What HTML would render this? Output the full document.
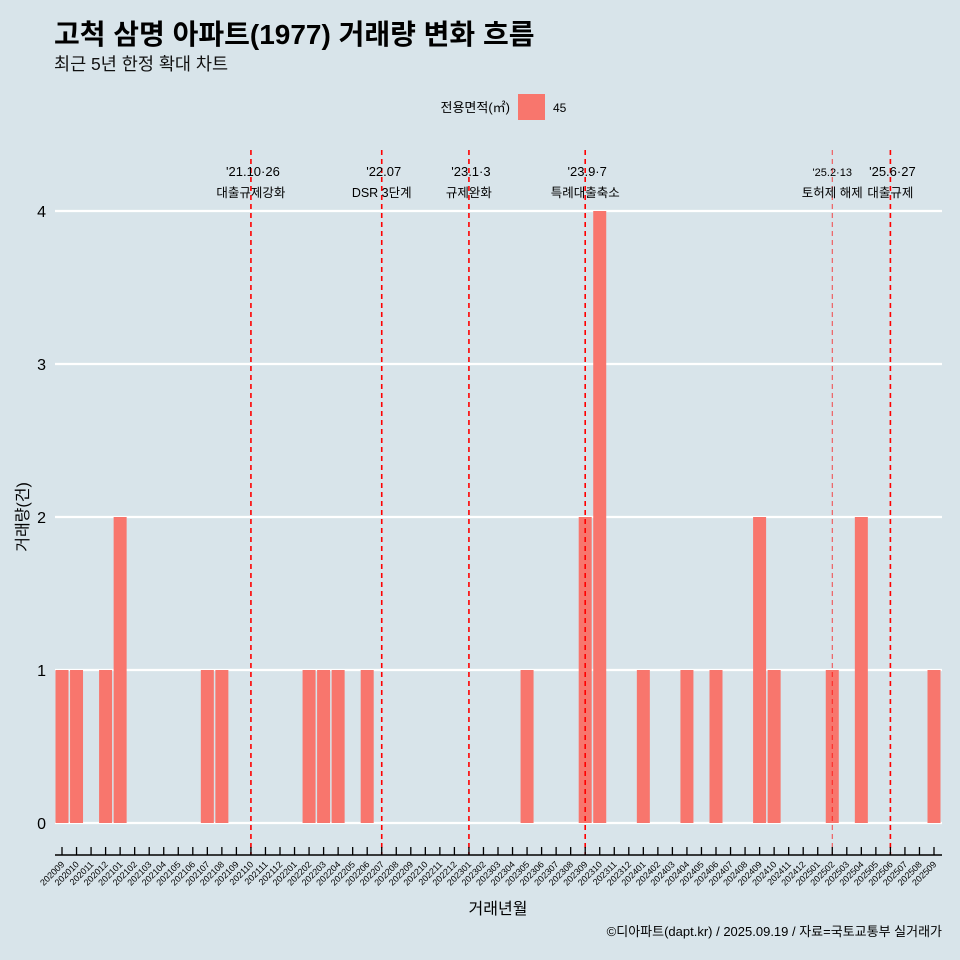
<!DOCTYPE html>
<html><head><meta charset="utf-8">
<style>
body{margin:0;background:#d8e4ea;}
svg{display:block;font-family:"Liberation Sans","Noto Sans CJK KR",sans-serif;}
</style></head>
<body>
<svg id="c" width="960" height="960" viewBox="0 0 960 960">
<rect width="960" height="960" fill="#d8e4ea"/>
<text x="54" y="44" font-size="28" font-weight="bold" fill="#000">고척 삼명 아파트(1977) 거래량 변화 흐름</text>
<text x="54" y="70" font-size="17.5" fill="#111">최근 5년 한정 확대 차트</text>
<g>
<text x="510" y="112" font-size="13" text-anchor="end">전용면적(㎡)</text>
<rect x="518" y="94" width="27" height="26" fill="#f8766d"/>
<text x="553" y="112" font-size="12">45</text>
</g>
<g id="grid"></g><g id="bars"></g><g id="events"></g><g id="axes"></g>
<text x="28" y="517" font-size="16" text-anchor="middle" transform="rotate(-90 28 517)">거래량(건)</text>
<text x="498" y="914" font-size="16" text-anchor="middle">거래년월</text>
<text x="942" y="936" font-size="13" text-anchor="end">©디아파트(dapt.kr) / 2025.09.19 / 자료=국토교통부 실거래가</text>
</svg>
<script>
const categories=[];
for(let y=2020,m=9;y<2025||(y===2025&&m<=9);){categories.push(''+y+(m<10?'0':'')+m);m++;if(m>12){m=1;y++;}}
const nonZeroMonths=['202009','202010','202012','202101','202107','202108','202202','202203','202204','202206','202305','202309','202310','202401','202404','202406','202409','202410','202502','202504','202509'];
const nonZeroValues=[1,1,1,2,1,1,1,1,1,1,1,2,4,1,1,1,2,1,1,2,1];
const yTicks=[0,1,2,3,4];
const eventMonths=['202110','202207','202301','202309','202502','202506'];
const eventLine1=["'21.10·26","'22.07","'23.1·3","'23.9·7","'25.2·13","'25.6·27"];
const eventLine2=['대출규제강화','DSR 3단계','규제완화','특례대출축소','토허제 해제','대출규제'];
const NS='http://www.w3.org/2000/svg';
const x0=62,step=(934-62)/60;
const xs=i=>x0+i*step;
const ys=v=>823-v*153;
function mk(t,a,p){const e=document.createElementNS(NS,t);for(const k in a)e.setAttribute(k,a[k]);p.appendChild(e);return e;}
const grid=document.getElementById('grid'),bars=document.getElementById('bars'),ev=document.getElementById('events'),ax=document.getElementById('axes');
yTicks.forEach(v=>{
 const l=mk('line',{x1:55,x2:942,y1:ys(v),y2:ys(v),stroke:'#fff','stroke-width':2.2},grid);
 
 
 const t=mk('text',{x:46,y:ys(v)+6,'font-size':16,'text-anchor':'end'},ax);t.textContent=v;
 
 
});
nonZeroMonths.forEach((m,k)=>{
 const i=categories.indexOf(m),v=nonZeroValues[k];
 const r=mk('rect',{x:xs(i)-6.5,y:ys(v),width:13,height:ys(0)-ys(v),fill:'#f8766d'},bars);
 
 
});
eventMonths.forEach((m,k)=>{
 const x=xs(categories.indexOf(m));
 const thin=m==='202502';
 const l=mk('line',{x1:x,x2:x,y1:150,y2:855,stroke:'#ff0000','stroke-width':thin?1:1.6,'stroke-dasharray':'5,4','stroke-opacity':thin?0.7:1},ev);
 
 
 const t1=mk('text',{x:x+(thin?0:2),y:176,'font-size':thin?11:13,'text-anchor':'middle'},ev);t1.textContent=eventLine1[k];
 
 
 const t2=mk('text',{x:x,y:197,'font-size':12.5,'text-anchor':'middle'},ev);t2.textContent=eventLine2[k];
 
 
});
const axl=mk('line',{x1:55,x2:942,y1:855,y2:855,stroke:'#000','stroke-width':1.5},ax);


categories.forEach((c,i)=>{
 const x=xs(i);
 mk('line',{x1:x,x2:x,y1:847,y2:855,stroke:'#000','stroke-width':1.3},ax);
 const t=mk('text',{x:x+3,y:865,'font-size':9,'text-anchor':'end',transform:`rotate(-45 ${x+3} 865)`},ax);t.textContent=c;
 
 
});
</script>
</body></html>
